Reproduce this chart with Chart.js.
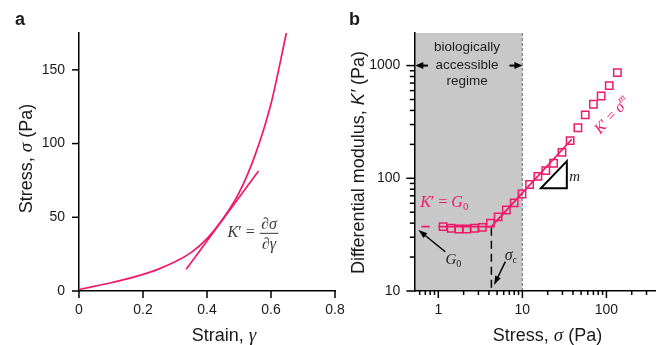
<!DOCTYPE html>
<html><head><meta charset="utf-8">
<script src="https://cdn.jsdelivr.net/npm/chart.js@4/dist/chart.umd.min.js"></script>
<style>
html,body{margin:0;padding:0;background:#fff;overflow:hidden}
#wrap{position:relative;width:662px;height:345px;background:#fff}
#wrap canvas{position:absolute;left:0;top:0}
</style></head>
<body>
<div id="wrap">
<canvas id="ca" width="662" height="345" style="width:662px;height:345px"></canvas>
<canvas id="cb" width="662" height="345" style="width:662px;height:345px"></canvas>
</div>
<script>
// ---------- Panel a data ----------
const strainA = [0, 0.05, 0.10, 0.15, 0.20, 0.25, 0.30, 0.35, 0.40, 0.45, 0.50, 0.55, 0.60, 0.648];
const stressA = [1.0, 3.3, 5.6, 8.2, 11.3, 15.0, 19.8, 26.0, 35.5, 49.0, 66.5, 92.0, 127.0, 175.0];
const tangentStrain = [0.335, 0.561];
const tangentStress = [14.7, 81.4];
const strainTicks = [0, 0.2, 0.4, 0.6, 0.8];
const stressTicks = [0, 50, 100, 150];

// ---------- Panel b data ----------
const stressB  = [1.14, 1.42, 1.76, 2.18, 2.70, 3.34, 4.17, 5.15, 6.45, 8.0, 9.9, 12.2, 15.3, 19.0, 23.5, 29.6, 37.0, 45.8, 56.0, 70.0, 86.6, 108, 135];
const modulusB = [37.2, 36.0, 35.5, 35.5, 36.0, 36.7, 40.0, 45.5, 52.3, 60.5, 72.5, 88.0, 104, 117, 136, 170, 216, 281, 365, 454, 537, 664, 865];
const fitStress  = [1.0, 4.28, 38.7];
const fitModulus = [37.2, 37.2, 222];
const plateauDashStress  = [0.63, 0.79];
const plateauDashModulus = [37.2, 37.2];
const sigmaCStress = [4.28, 4.28];
const sigmaCModulus = [36.5, 10.6];
const stressMajor = [1, 10, 100];
const stressMinor = [0.6, 0.7, 0.8, 0.9, 2, 3, 4, 5, 6, 7, 8, 9, 20, 30, 40, 50, 60, 70, 80, 90, 200, 300];
const modulusMajor = [10, 100, 1000];
const modulusMinor = [20, 30, 40, 50, 60, 70, 80, 90, 200, 300, 400, 500, 600, 700, 800, 900];
const regimeEnd = 10;

// ---------- styling ----------
const PINK = '#f0196a';
const TXT = '#1a1a1a';
const SANS = '"Liberation Sans", Arial, sans-serif';
const SERIF = '"Liberation Serif", "Times New Roman", serif';
function F(size, o) { o = o || {}; return (o.i ? 'italic ' : '') + (o.b ? 'bold ' : '') + size + 'px ' + (o.s ? SERIF : SANS); }

function richWidth(ctx, parts) { let w = 0; for (const p of parts) { ctx.font = p.f; w += ctx.measureText(p.t).width + (p.dx || 0); } return w; }
function drawRich(ctx, parts, x, y, align) {
  const w = richWidth(ctx, parts);
  let cx = align === 'center' ? x - w / 2 : align === 'right' ? x - w : x;
  ctx.textAlign = 'left'; ctx.textBaseline = 'alphabetic';
  for (const p of parts) { ctx.font = p.f; cx += (p.dx || 0); ctx.fillText(p.t, cx, y + (p.dy || 0)); cx += ctx.measureText(p.t).width; }
  return w;
}
function line(ctx, x1, y1, x2, y2) { ctx.beginPath(); ctx.moveTo(x1, y1); ctx.lineTo(x2, y2); ctx.stroke(); }
function arrow(ctx, x1, y1, x2, y2, head, hw, lw, color) {
  const a = Math.atan2(y2 - y1, x2 - x1);
  ctx.save(); ctx.strokeStyle = color; ctx.fillStyle = color; ctx.lineWidth = lw; ctx.setLineDash([]);
  line(ctx, x1, y1, x2 - Math.cos(a) * head * 0.8, y2 - Math.sin(a) * head * 0.8);
  ctx.beginPath(); ctx.moveTo(x2, y2);
  ctx.lineTo(x2 - Math.cos(a) * head + Math.sin(a) * hw / 2, y2 - Math.sin(a) * head - Math.cos(a) * hw / 2);
  ctx.lineTo(x2 - Math.cos(a) * head - Math.sin(a) * hw / 2, y2 - Math.sin(a) * head + Math.cos(a) * hw / 2);
  ctx.closePath(); ctx.fill(); ctx.restore();
}
function xy(xs, ys) { return xs.map((x, i) => ({ x: x, y: ys[i] })); }

function axisBase(extra) {
  return Object.assign({
    grid: { display: true, drawOnChartArea: false, drawTicks: false },
    border: { display: true, color: '#000', width: 1.5 },
  }, extra);
}
function tickFont() { return { family: SANS, size: 14 }; }

// ---------- Panel a ----------
const annotA = {
  id: 'annotA',
  afterDraw(chart) {
    const { ctx, chartArea: ca, scales: { x, y } } = chart;
    ctx.save();
    ctx.strokeStyle = '#000'; ctx.lineWidth = 1.5;
    strainTicks.forEach(v => { const p = x.getPixelForValue(v); line(ctx, p, ca.bottom, p, ca.bottom + 7); });
    stressTicks.forEach(v => { const p = y.getPixelForValue(v); line(ctx, ca.left, p, ca.left - 7, p); });
    ctx.fillStyle = TXT;
    drawRich(ctx, [{ t: 'a', f: F(18, { b: true }) }], 15, 25, 'left');
    drawRich(ctx, [{ t: 'Strain, ', f: F(18) }, { t: 'γ', f: F(19, { i: true, s: true }) }], 224, 341, 'center');
    ctx.save(); ctx.translate(31.5, 158.5); ctx.rotate(-Math.PI / 2);
    drawRich(ctx, [{ t: 'Stress, ', f: F(18) }, { t: 'σ', f: F(19, { i: true, s: true }) }, { t: ' (Pa)', f: F(18) }], 0, 0, 'center');
    ctx.restore();
    // K' = dσ/dγ
    ctx.fillStyle = '#3a3a3a';
    const ax = x.getPixelForValue(0.464), ay = y.getPixelForValue(36.4);
    const w1 = drawRich(ctx, [{ t: 'K', f: F(16, { i: true, s: true }) }, { t: '′', f: F(16, { s: true }) }, { t: ' = ', f: F(16, { s: true }) }], ax, ay, 'left');
    const num = [{ t: '∂', f: F(16, { s: true }) }, { t: 'σ', f: F(16, { i: true, s: true }) }];
    const den = [{ t: '∂', f: F(16, { s: true }) }, { t: 'γ', f: F(16, { i: true, s: true }) }];
    const fw = Math.max(richWidth(ctx, num), richWidth(ctx, den)) + 3;
    const fl = ax + w1 + 1, fc = fl + fw / 2;
    drawRich(ctx, num, fc, ay - 8.5, 'center');
    drawRich(ctx, den, fc, ay + 11.5, 'center');
    ctx.strokeStyle = '#3a3a3a'; ctx.lineWidth = 1;
    line(ctx, fl, ay - 4, fl + fw, ay - 4);
    ctx.restore();
  }
};

new Chart(document.getElementById('ca'), {
  type: 'scatter',
  data: {
    datasets: [
      { data: xy(strainA, stressA), showLine: true, borderColor: PINK, borderWidth: 1.7, pointRadius: 0, cubicInterpolationMode: 'monotone' },
      { data: xy(tangentStrain, tangentStress), showLine: true, borderColor: PINK, borderWidth: 1.7, pointRadius: 0 }
    ]
  },
  options: {
    responsive: false, animation: false, devicePixelRatio: 1, events: [],
    layout: { padding: { top: 33, right: 327, left: 0, bottom: 0 } },
    plugins: { legend: { display: false }, tooltip: { enabled: false } },
    scales: {
      x: axisBase({
        type: 'linear', min: 0, max: 0.8,
        afterBuildTicks: s => { s.ticks = strainTicks.map(v => ({ value: v })); },
        afterFit: s => { s.height = 54; },
        ticks: { padding: 11, color: TXT, font: tickFont(), autoSkip: false, maxRotation: 0, callback: v => String(v) }
      }),
      y: axisBase({
        type: 'linear', min: 0, max: 175,
        afterBuildTicks: s => { s.ticks = stressTicks.map(v => ({ value: v })); },
        afterFit: s => { s.width = 79; },
        ticks: { padding: 14, color: TXT, font: tickFont(), autoSkip: false, callback: v => String(v) }
      })
    }
  },
  plugins: [annotA]
});

// ---------- Panel b ----------
const annotB = {
  id: 'annotB',
  beforeDraw(chart) {
    const { ctx, chartArea: ca, scales: { x } } = chart;
    const xr = x.getPixelForValue(regimeEnd);
    ctx.save();
    ctx.fillStyle = '#c8c8c8';
    ctx.fillRect(ca.left, ca.top, xr - ca.left, ca.bottom - ca.top);
    ctx.strokeStyle = '#8a8a8a'; ctx.lineWidth = 1.4; ctx.setLineDash([3, 2]);
    line(ctx, xr, ca.top, xr, ca.bottom);
    ctx.restore();
  },
  afterDraw(chart) {
    const { ctx, chartArea: ca, scales: { x, y } } = chart;
    const P = (a, b) => [x.getPixelForValue(a), y.getPixelForValue(b)];
    ctx.save();
    ctx.strokeStyle = '#000'; ctx.lineWidth = 1.5;
    stressMajor.forEach(v => { const p = x.getPixelForValue(v); line(ctx, p, ca.bottom, p, ca.bottom + 7); });
    stressMinor.forEach(v => { const p = x.getPixelForValue(v); line(ctx, p, ca.bottom, p, ca.bottom + 4); });
    modulusMajor.forEach(v => { const p = y.getPixelForValue(v); line(ctx, ca.left, p, ca.left - 8, p); });
    modulusMinor.forEach(v => { const p = y.getPixelForValue(v); line(ctx, ca.left, p, ca.left - 4.5, p); });

    ctx.fillStyle = TXT;
    drawRich(ctx, [{ t: 'b', f: F(18, { b: true }) }], 349, 25, 'left');
    drawRich(ctx, [{ t: 'Stress, ', f: F(18) }, { t: 'σ', f: F(19, { i: true, s: true }) }, { t: ' (Pa)', f: F(18) }], 547.5, 341, 'center');
    ctx.save(); ctx.translate(364, 162.5); ctx.rotate(-Math.PI / 2);
    drawRich(ctx, [{ t: 'Differential modulus, ', f: F(18) }, { t: 'K′', f: F(18, { i: true }) }, { t: ' (Pa)', f: F(18) }], 0, 0, 'center');
    ctx.restore();

    // regime text and arrows
    ctx.fillStyle = '#222';
    const [tx, ty] = P(2.2, 1340);
    drawRich(ctx, [{ t: 'biologically', f: F(13.5) }], tx, ty, 'center');
    drawRich(ctx, [{ t: 'accessible', f: F(13.5) }], tx, ty + 17.5, 'center');
    drawRich(ctx, [{ t: 'regime', f: F(13.5) }], tx, ty + 34, 'center');
    const [la, ly] = P(0.752, 1000);
    arrow(ctx, la, ly, ca.left + 1, ly, 8, 7, 2, '#000');
    const [ra] = P(7.03, 1000);
    const [re] = P(regimeEnd, 1000);
    arrow(ctx, ra, ly, re, ly, 8, 7, 2, '#000');

    // K' = G0 label
    ctx.fillStyle = PINK;
    let [px, py] = P(0.608, 55.1);
    drawRich(ctx, [{ t: 'K', f: F(16, { i: true, s: true }) }, { t: '′', f: F(16, { s: true }) }, { t: ' = ', f: F(16, { s: true }) },
      { t: 'G', f: F(16, { i: true, s: true }) }, { t: '0', f: F(11, { s: true }), dy: 3 }], px, py, 'left');

    // G0 arrow and label
    const [g1x, g1y] = P(1.21, 22.3), [g2x, g2y] = P(0.58, 34.8);
    arrow(ctx, g1x, g1y, g2x, g2y, 9, 6, 1.5, '#000');
    ctx.fillStyle = '#222';
    [px, py] = P(1.215, 17.2);
    drawRich(ctx, [{ t: 'G', f: F(15, { i: true, s: true }) }, { t: '0', f: F(10, { s: true }), dy: 3 }], px, py, 'left');

    // sigma_c arrow and label
    const [s1x, s1y] = P(6.28, 18.2), [s2x, s2y] = P(4.6, 11.3);
    arrow(ctx, s1x, s1y, s2x, s2y, 9, 6, 1.5, '#000');
    [px, py] = P(6.16, 18.8);
    drawRich(ctx, [{ t: 'σ', f: F(16, { i: true, s: true }) }, { t: 'c', f: F(10, { s: true }), dy: 3 }], px, py, 'left');

    // slope triangle
    const t1 = P(16.6, 81.5), t2 = P(33.8, 81.5), t3 = P(33.8, 142);
    ctx.strokeStyle = '#000'; ctx.lineWidth = 2; ctx.setLineDash([]);
    ctx.beginPath(); ctx.moveTo(t1[0], t1[1]); ctx.lineTo(t2[0], t2[1]); ctx.lineTo(t3[0], t3[1]); ctx.closePath(); ctx.stroke();
    [px, py] = P(36, 94.6);
    drawRich(ctx, [{ t: 'm', f: F(15, { i: true, s: true }) }], px, py, 'left');

    // K' = sigma^m rotated
    ctx.fillStyle = PINK;
    [px, py] = P(115.4, 365);
    ctx.save(); ctx.translate(px, py); ctx.rotate(-47 * Math.PI / 180);
    drawRich(ctx, [{ t: 'K', f: F(15, { i: true, s: true }) }, { t: '′', f: F(15, { s: true }) }, { t: ' = ', f: F(15, { s: true }) },
      { t: 'σ', f: F(16, { i: true, s: true }) }, { t: 'm', f: F(10, { i: true, s: true }), dy: -6 }], 0, 5, 'center');
    ctx.restore();
    ctx.restore();
  }
};

new Chart(document.getElementById('cb'), {
  type: 'scatter',
  data: {
    datasets: [
      { data: xy(stressB, modulusB), showLine: false, pointStyle: 'rect', pointRadius: 5.2, borderWidth: 1.5, borderColor: PINK, backgroundColor: 'rgba(0,0,0,0)' },
      { data: xy(fitStress, fitModulus), showLine: true, borderColor: PINK, borderWidth: 1.8, pointRadius: 0 },
      { data: xy(plateauDashStress, plateauDashModulus), showLine: true, borderColor: PINK, borderWidth: 1.8, pointRadius: 0 },
      { data: xy(sigmaCStress, sigmaCModulus), showLine: true, borderColor: '#000', borderWidth: 1.5, borderDash: [8, 5], pointRadius: 0 }
    ]
  },
  options: {
    responsive: false, animation: false, devicePixelRatio: 1, events: [],
    layout: { padding: { top: 33, right: 0, left: 0, bottom: 0 } },
    plugins: { legend: { display: false }, tooltip: { enabled: false } },
    scales: {
      x: axisBase({
        type: 'logarithmic', min: 0.518, max: 381.5,
        afterBuildTicks: s => { s.ticks = stressMajor.map(v => ({ value: v })); },
        afterFit: s => { s.height = 54; },
        ticks: { padding: 11, color: TXT, font: tickFont(), autoSkip: false, maxRotation: 0, callback: v => String(v) }
      }),
      y: axisBase({
        type: 'logarithmic', min: 10, max: 1946,
        afterBuildTicks: s => { s.ticks = modulusMajor.map(v => ({ value: v })); },
        afterFit: s => { s.width = 414.3; },
        ticks: { padding: 14, color: TXT, font: tickFont(), autoSkip: false, callback: v => String(v) }
      })
    }
  },
  plugins: [annotB]
});
</script>
</body></html>
